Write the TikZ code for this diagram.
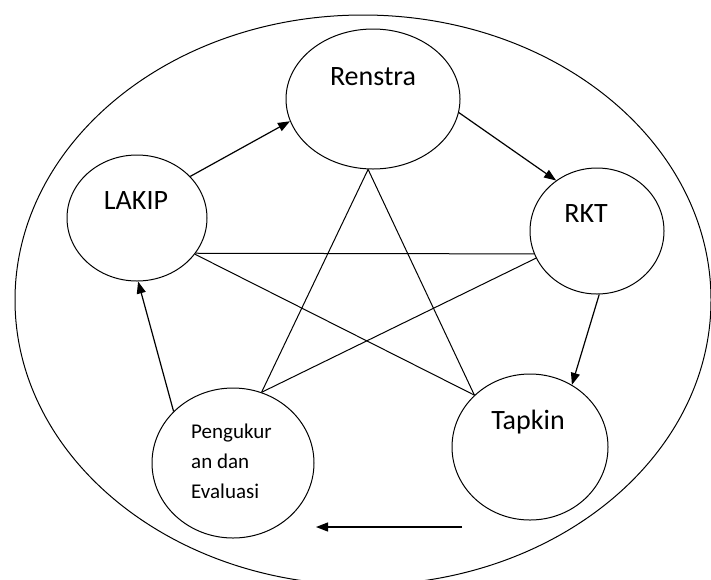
\documentclass[tikz,border=0pt]{standalone}
\usepackage{fontspec}
\setmainfont{Carlito}
\usetikzlibrary{shapes.geometric,arrows.meta}
\tikzset{
  bubble/.style={draw,ellipse,inner sep=0pt,line width=1pt},
  lbl/.style={font=\fontsize{28}{34}\selectfont,anchor=base,inner sep=0pt},
  arr/.style={-{Triangle[length=12pt,width=9pt]},line width=1.2pt},
  star/.style={line width=1pt}
}
\begin{document}
\begin{tikzpicture}[x=1pt,y=-1pt]
  \useasboundingbox (0,0) rectangle (711,579);
  \clip (0,0) rectangle (711,579);
  \draw[line width=1pt] (363,300) ellipse [x radius=348, y radius=285];

  \node[bubble,minimum width=174pt,minimum height=140pt] (renstra) at (373,99) {};
  \node[bubble,minimum width=140pt,minimum height=126pt] (lakip) at (137,218) {};
  \node[bubble,minimum width=134pt,minimum height=126pt] (rkt) at (597,231) {};
  \node[bubble,minimum width=162pt,minimum height=150pt] (ukur) at (233,463) {};
  \node[bubble,minimum width=156pt,minimum height=146pt] (tapkin) at (530,447) {};

  \node[lbl] (trenstra) at (373,85) {Renstra};
  \node[lbl] (tlakip) at (136,209) {LAKIP};
  \node[lbl] (trkt) at (586,222) {RKT};
  \node[lbl] (ttapkin) at (528,429) {Tapkin};
  \node[lbl,anchor=base west,align=left,font=\fontsize{21}{30}\selectfont] (tukur) at (191,498) {Pengukur\\an dan\\Evaluasi};

  % bintang
  \draw[star] (renstra.-94) -- (ukur.68);
  \draw[star] (renstra.-94) -- (tapkin.137);
  \draw[star] (lakip.-31) -- (rkt.200);
  \draw[star] (lakip.-32) -- (tapkin.137);
  \draw[star] (rkt.204) -- (ukur.68);

  % siklus
  \draw[arr] (lakip.38) -- (renstra.195);
  \draw[arr] (renstra.-9) -- (rkt.129);
  \draw[arr] (rkt.-88) -- (tapkin.56);
  \draw[arr] (ukur.139) -- (lakip.-89);
  \coordinate (tk) at (462,527);
  \coordinate (uk) at (316,527);
  \draw[arr] (tk) -- (uk);
\end{tikzpicture}
\end{document}
